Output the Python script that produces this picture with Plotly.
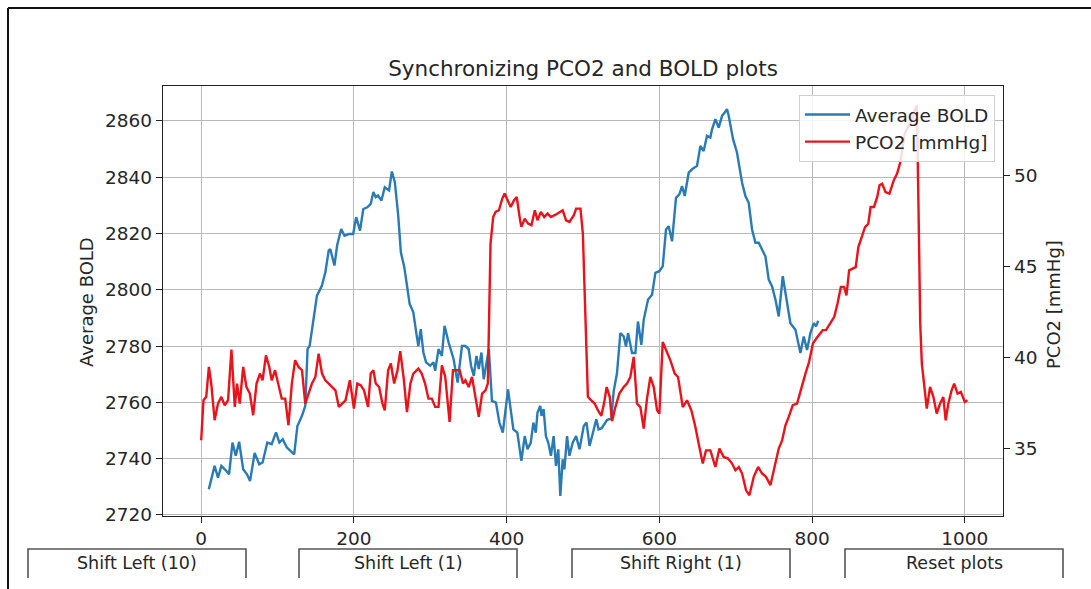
import plotly.graph_objects as go

# ---------------- data ----------------
bold_x = [10, 17.6, 22, 26.4, 33, 36.5, 41, 45.3, 49.7, 55, 60, 64, 70, 76, 80.4, 86.6, 92.3, 98,
          102.4, 106.8, 112, 121.8, 126, 132, 136.3, 139.3, 142, 147, 151.6, 158, 162.6, 167, 169,
          174.5, 178, 183.3, 187.7, 193.4, 199, 203, 208, 212.3, 217.6, 222, 225.5, 228.6, 231.6,
          236, 240.4, 246, 249.7, 253.6, 258, 261.5, 266, 273, 277.8, 282.2, 284.4, 287.5, 291,
          294.5, 299.8, 304.2, 306.4, 310.8, 315.2, 318.7, 324, 330.5, 335.8, 341.5, 346, 350.3,
          353.4, 357, 360.5, 363.5, 367, 370, 373.2, 376.7, 380.8, 386, 390.5, 395, 401.8, 405.3,
          408.8, 414, 419.3, 423.7, 427.3, 431.6, 435, 438.2, 440.4, 444, 445.7, 448.4, 451.4,
          454.5, 458, 461.5, 464.6, 467.6, 470.3, 473.4, 475.6, 479.1, 482.2, 486.6, 491, 495.4,
          501, 504.6, 508.6, 513, 517.4, 520.4, 524.5, 531.4, 537.1, 540.2, 544.5, 548.9, 553.3,
          556.3, 559, 564.2, 568.6, 572, 576.4, 579.5, 585.2, 590.4, 594.8, 600, 604.4, 608.7,
          612.2, 616.6, 621.8, 626.2, 629.7, 633.2, 638.4, 642.8, 649.3, 653.7, 658, 662.4, 666.8,
          669, 673.4, 677.7, 682.1, 685.6, 688.6, 690.8, 696.5, 701.7, 708.3, 712.7, 717, 721.4,
          725.8, 730.1, 734.5, 738.9, 743.2, 747.6, 752, 756.3, 761.6, 767.2, 771.6, 778.2, 784.7,
          789.1, 793.4, 797.8, 802.2, 805.2, 808]
bold_y = [2729.1, 2737.4, 2733.2, 2737.4, 2735.6, 2734.4, 2745.7, 2741.0, 2746.0, 2736.2, 2734.4,
          2732.0, 2742.0, 2738.0, 2738.6, 2745.7, 2745.1, 2749.3, 2745.7, 2746.9, 2744.0, 2741.5,
          2751.6, 2755.2, 2758.7, 2778.9, 2780.0, 2789.6, 2797.9, 2801.4, 2806.2, 2813.9, 2814.5,
          2808.6, 2815.7, 2821.6, 2819.2, 2819.8, 2819.8, 2825.8, 2821.0, 2828.7, 2829.3, 2830.5,
          2834.7, 2832.9, 2833.5, 2831.7, 2836.4, 2835.3, 2842.0, 2838.2, 2826.4, 2813.3, 2808.0,
          2795.0, 2792.0, 2783.7, 2780.0, 2786.0, 2777.7, 2774.2, 2773.0, 2774.2, 2771.2, 2778.9,
          2776.5, 2787.2, 2781.3, 2775.4, 2767.0, 2780.0, 2780.0, 2778.9, 2773.0, 2769.4, 2776.5,
          2771.8, 2777.7, 2768.2, 2774.2, 2778.9, 2760.5, 2759.9, 2752.8, 2749.2, 2764.6, 2757.6,
          2750.4, 2749.2, 2739.2, 2748.0, 2743.3, 2745.7, 2752.8, 2749.2, 2756.4, 2758.7, 2755.2,
          2757.6, 2748.0, 2745.7, 2741.0, 2748.0, 2737.4, 2743.3, 2726.7, 2739.7, 2736.2, 2748.0,
          2741.0, 2745.7, 2748.0, 2743.3, 2751.6, 2752.8, 2744.5, 2749.2, 2754.0, 2750.4, 2750.8,
          2753.7, 2754.3, 2764.0, 2770.3, 2784.6, 2783.4, 2779.8, 2784.6, 2777.5, 2777.5, 2788.7,
          2780.4, 2789.3, 2796.5, 2798.2, 2806.0, 2806.6, 2808.3, 2821.4, 2822.6, 2817.2, 2832.7,
          2833.9, 2836.8, 2833.3, 2841.6, 2842.8, 2844.0, 2851.1, 2849.3, 2854.7, 2854.1, 2857.0,
          2860.6, 2857.6, 2861.8, 2863.0, 2864.2, 2861.8, 2853.5, 2848.7, 2838.0, 2833.3, 2830.9,
          2821.4, 2816.7, 2816.7, 2814.3, 2811.9, 2803.6, 2801.2, 2796.5, 2790.5, 2804.8, 2795.3,
          2788.1, 2785.8, 2777.5, 2783.4, 2778.6, 2784.6, 2788.1, 2787.0, 2789.0]

pco2_x = [0, 3, 6.6, 10.1, 13.2, 17.6, 22, 26.4, 30.8, 35.2, 39.6, 44, 47, 50.5, 55, 59.3, 63.7,
          68.1, 72.5, 77, 80.4, 84.8, 89.2, 92.3, 96.7, 101, 105.5, 110, 114.3, 118.7, 123, 127.5,
          132, 136.3, 140.7, 145, 149.5, 153.8, 158.2, 162.6, 167, 171.4, 175.8, 180.2, 184.6, 189,
          194.7, 200, 204.4, 208.8, 213.2, 218.5, 222, 225.5, 228.6, 233, 237.4, 240.4, 244.8,
          248.4, 252.7, 257.1, 260.7, 265, 269.5, 274, 277.8, 284.4, 288.8, 293.2, 297.6, 302,
          306.4, 310.8, 315.2, 319.6, 325.3, 329.7, 334.1, 338.5, 342.9, 346, 350.3, 354.7, 359.1,
          363.5, 367.9, 372.3, 375.4, 376.7, 378.9, 382.4, 385.5, 389.9, 394.3, 397.4, 401.8,
          405.3, 409.7, 413.2, 417.6, 419.3, 423.7, 428.1, 432.5, 436.9, 440.4, 444.8, 449.2,
          453.6, 458, 462.4, 466.8, 473.4, 477.8, 482.2, 487.9, 491, 496.7, 499.8, 502.9, 506.4,
          510.8, 515.2, 519.6, 524, 527.5, 531, 535, 538, 542.4, 547.6, 553.3, 557.6, 562, 566.4,
          570.7, 575.1, 579.5, 583.8, 588.2, 592.6, 597, 600, 604.4, 608.7, 614.4, 620.1, 624.5,
          630.6, 636.2, 641.9, 647.2, 651.5, 656.8, 661.1, 666.8, 673.4, 678.6, 684.3, 690, 695.2,
          699.6, 704, 708.3, 713.5, 717.9, 723.6, 729.3, 734.5, 739.7, 745.4, 751.1, 756.3, 760.7,
          765.1, 769.4, 774.7, 780.3, 786, 791.3, 796, 801, 806, 813.9, 818.2, 822.5, 829, 833.3,
          837.7, 842, 845, 848.5, 852.8, 857.1, 860.6, 864.9, 869.3, 873.6, 876.6, 881, 885.3,
          888.3, 891.8, 896.1, 901.3, 906.9, 911.3, 915.6, 917.7, 921.2, 925.5, 930.7, 934.2,
          937.2, 939.4, 941.6, 943.7, 947.2, 950.2, 954.5, 958.9, 963.2, 967.5, 971.9, 974.9,
          978.4, 982.7, 986.1, 990.5, 994.8, 1000, 1003.5]
pco2_y = [35.46, 37.65, 37.84, 39.48, 38.57, 36.56, 37.47, 37.84, 37.38, 37.65, 40.43, 37.29, 38.57,
          37.47, 39.48, 38.38, 38.02, 36.83, 38.57, 39.12, 38.75, 40.12, 39.48, 38.75, 39.30,
          38.57, 37.74, 37.74, 36.28, 38.57, 39.85, 39.48, 39.30, 37.47, 38.02, 38.57, 38.93,
          40.21, 39.12, 38.75, 38.57, 38.38, 38.20, 37.29, 37.47, 37.65, 38.75, 37.20, 38.57,
          38.48, 38.20, 37.29, 39.12, 39.30, 38.57, 38.38, 37.47, 37.10, 39.30, 39.67, 38.57,
          39.30, 40.35, 38.93, 37.00, 38.57, 39.12, 39.39, 39.12, 38.57, 37.74, 37.74, 37.29,
          37.29, 39.57, 38.93, 36.46, 39.30, 39.30, 39.30, 38.57, 38.75, 38.38, 38.93, 37.84,
          36.74, 38.02, 38.20, 38.57, 42.23, 46.25, 47.71, 47.99, 48.08, 48.72, 49.00, 48.54,
          48.26, 48.63, 48.81, 47.53, 47.17, 47.62, 47.35, 47.26, 48.08, 47.53, 47.99, 47.71,
          47.90, 47.71, 47.80, 47.90, 48.08, 47.53, 47.44, 47.80, 48.17, 48.17, 46.80, 43.14,
          37.84, 37.65, 37.47, 37.10, 36.80, 37.47, 38.38, 37.84, 36.50, 37.28, 38.02, 38.38,
          38.57, 38.93, 40.03, 37.47, 37.28, 36.10, 37.74, 38.93, 38.38, 37.10, 36.92, 40.85,
          40.40, 39.84, 39.11, 38.93, 37.28, 37.65, 37.10, 36.19, 35.27, 34.18, 34.90, 34.90,
          33.99, 35.00, 34.54, 34.45, 34.18, 33.81, 33.99, 33.63, 32.71, 32.44, 33.45, 33.99,
          33.63, 33.45, 32.99, 33.99, 35.00, 35.45, 36.28, 36.74, 37.38, 37.47, 38.38, 39.11,
          39.75, 40.76, 41.07, 41.50, 41.50, 41.77, 42.23, 42.96, 43.87, 43.87, 43.41, 44.78,
          44.87, 44.96, 46.06, 46.61, 47.16, 47.34, 48.26, 48.26, 48.81, 49.45, 49.54, 49.08,
          48.99, 49.72, 50.09, 50.73, 51.37, 52.28, 52.65, 53.02, 53.57, 53.84, 48.08, 41.86,
          39.66, 38.20, 37.19, 38.38, 37.83, 36.92, 37.46, 37.83, 36.55, 37.46, 38.20, 38.56,
          38.02, 38.11, 37.56, 37.65]

x_ticks = [0, 200, 400, 600, 800, 1000]
bold_ticks = [2720, 2740, 2760, 2780, 2800, 2820, 2840, 2860]
pco2_ticks = [35, 40, 45, 50]
button_labels = ["Shift Left (10)", "Shift Left (1)", "Shift Right (1)", "Reset plots"]

# ---------------- layout helpers ----------------
W, H = 1091, 589
L, R, T, B = 163, 1003, 86, 516          # plot area in pixels
FONT = "DejaVu Sans"
TXT = "#262626"


def px(xp):
    return (xp - L) / (R - L)


def py(yp):
    return (B - yp) / (B - T)


fig = go.Figure()
fig.add_trace(go.Scatter(x=bold_x, y=bold_y, mode="lines", name="Average BOLD",
                         line=dict(color="#2a7ab5", width=2.4)))
fig.add_trace(go.Scatter(x=pco2_x, y=pco2_y, mode="lines", name="PCO2 [mmHg]", yaxis="y2",
                         line=dict(color="#e8131b", width=2.4)))

axis_common = dict(showline=True, linecolor="#222", linewidth=1.4, ticks="outside",
                   ticklen=6, tickcolor="#222", tickwidth=1.2,
                   tickfont=dict(family=FONT, size=18.5, color=TXT), zeroline=False)

fig.update_layout(
    width=W, height=H,
    margin=dict(l=L, r=W - R, t=T, b=H - B, pad=0),
    paper_bgcolor="white", plot_bgcolor="white",
    showlegend=True,
    title=dict(text="Synchronizing PCO2 and BOLD plots", x=(L + R) / 2 / W, xanchor="center",
               y=1 - 68 / H, yanchor="middle", font=dict(family=FONT, size=21.5, color=TXT)),
    xaxis=dict(range=[-50, 1050], tickvals=x_ticks, showgrid=True, gridcolor="#b8b8b8",
               gridwidth=1, mirror=True, **axis_common),
    yaxis=dict(range=[2719.6, 2872.4], tickvals=bold_ticks, showgrid=True, gridcolor="#b8b8b8",
               gridwidth=1, **axis_common),
    yaxis2=dict(range=[31.3, 54.9], tickvals=pco2_ticks, overlaying="y", side="right",
                showgrid=False, **axis_common),
    legend=dict(x=px(995), y=py(95), xanchor="right", yanchor="top", itemwidth=45,
                bgcolor="rgba(255,255,255,0.85)", bordercolor="#d0d0d0", borderwidth=1,
                font=dict(family=FONT, size=18.5, color=TXT), tracegroupgap=2),
)

# axis titles
fig.add_annotation(text="Average BOLD", x=px(86), y=py(302), xref="paper", yref="paper",
                   xanchor="center", yanchor="middle",
                   textangle=-90, showarrow=False, font=dict(family=FONT, size=18, color=TXT))
fig.add_annotation(text="PCO2 [mmHg]", x=px(1053), y=py(305), xref="paper", yref="paper",
                   xanchor="center", yanchor="middle",
                   textangle=-90, showarrow=False, font=dict(family=FONT, size=18, color=TXT))

# window frame
fig.add_shape(type="line", xref="paper", yref="paper", x0=px(8), x1=px(1091), y0=py(8), y1=py(8),
              line=dict(color="#111", width=2))
fig.add_shape(type="line", xref="paper", yref="paper", x0=px(8), x1=px(8), y0=py(8), y1=py(589),
              line=dict(color="#111", width=2))

# buttons
btn_edges = [(28, 246), (299, 517), (572, 790), (845, 1063)]
for (x0, x1), lab in zip(btn_edges, button_labels):
    fig.add_shape(type="path", xref="paper", yref="paper",
                  path=f"M {px(x0)} {py(578)} L {px(x0)} {py(549)} L {px(x1)} {py(549)} L {px(x1)} {py(578)}",
                  line=dict(color="#555", width=1.6))
    fig.add_annotation(text=lab, x=px((x0 + x1) / 2), y=py(563), xref="paper", yref="paper",
                       xanchor="center", yanchor="middle",
                       showarrow=False, font=dict(family=FONT, size=17.5, color=TXT))

fig.write_html("out.html")
